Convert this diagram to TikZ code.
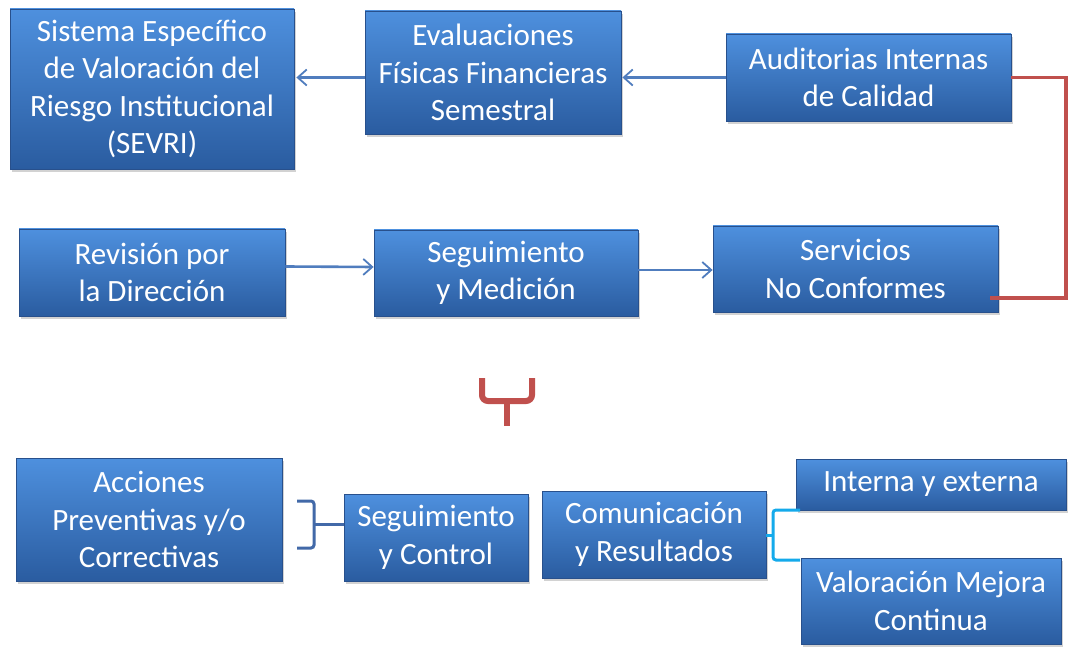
\documentclass[tikz,border=0pt]{standalone}
\usepackage{fontspec}
\setmainfont{Carlito}
\usetikzlibrary{arrows.meta,shadows,calc}
\definecolor{boxtop}{RGB}{78,144,222}
\definecolor{boxbot}{RGB}{42,92,160}
\definecolor{boxline}{RGB}{40,80,140}
\definecolor{arrblue}{RGB}{80,125,190}
\definecolor{redln}{RGB}{192,80,77}
\definecolor{darkbr}{RGB}{66,105,168}
\definecolor{cyanbr}{RGB}{20,170,235}
\tikzset{
  box/.style={draw=boxline, line width=0.8pt, top color=boxtop, bottom color=boxbot,
    text=white, align=center, inner sep=2pt,
    font=\fontsize{31}{37.5}\selectfont,
    drop shadow={opacity=0.35, shadow xshift=2pt, shadow yshift=-3pt}},
  arr/.style={draw=arrblue, line width=2.6pt, -{Straight Barb[length=9pt,width=16pt,line width=1.8pt]}},
  redline/.style={draw=redln, line width=3.5pt},
  redbrace/.style={draw=redln, line width=6pt, rounded corners=6pt},
  bluebrace/.style={draw=darkbr, line width=3pt, rounded corners=3pt},
  cyanbrace/.style={draw=cyanbr, line width=3pt, rounded corners=3pt}
}
\begin{document}
\begin{tikzpicture}[x=1pt,y=-1pt]
\useasboundingbox[fill=white] (0,0) rectangle (1069,647);
% row 1
\node[box, minimum width=284pt, minimum height=160pt] (sevri) at (152,89)
  {Sistema Específico\\de Valoración del\\Riesgo Institucional\\(SEVRI)};
\node[box, minimum width=256pt, minimum height=123pt] (eval) at (493,72.5)
  {Evaluaciones\\Físicas Financieras\\Semestral};
\node[box, minimum width=285pt, minimum height=87pt] (audit) at (868.5,77.5)
  {Auditorias Internas\\de Calidad};
% row 2
\node[box, minimum width=266pt, minimum height=87pt] (rev) at (152,272.5)
  {Revisión por\\la Dirección};
\node[box, minimum width=264pt, minimum height=86pt] (segm) at (506,273)
  {Seguimiento\\y Medición};
\node[box, minimum width=285pt, minimum height=86pt] (serv) at (855.5,269)
  {Servicios\\No Conformes};
% row 3
\node[box, minimum width=266pt, minimum height=123pt] (acc) at (149,519.5)
  {Acciones\\Preventivas y/o\\Correctivas};
\node[box, minimum width=184pt, minimum height=87pt] (segc) at (436,537.5)
  {Seguimiento\\y Control};
\node[box, minimum width=224pt, minimum height=87pt] (com) at (654,534.5)
  {Comunicación\\y Resultados};
\node[box, minimum width=270pt, minimum height=51pt] (int) at (931,484.5)
  {Interna y externa};
\node[box, minimum width=260pt, minimum height=86pt] (val) at (931,601)
  {Valoración Mejora\\Continua};
% arrows
\draw[arr] (audit.west) -- ([xshift=1pt]eval.east |- audit.west);
\draw[arr] (eval.west |- audit.west) -- ([xshift=2pt]sevri.east |- audit.west);
\draw[arr] ([yshift=6pt]rev.east) -- ([yshift=6pt]segm.west);
\draw[arr] (segm.east |- 0,270) -- (serv.west |- 0,270);
% red connector
\coordinate (rc) at (1066,77.5);
\draw[redline] (audit.east) -- (rc) |- ([xshift=-8pt,yshift=-29pt]serv.east);
% red brace
\coordinate (rb1) at (482,378);
\coordinate (rb2) at (532,378);
\coordinate (rbm) at (507,401);
\coordinate (rbs) at (507,426);
\draw[redbrace] (rb1) -- (rb1 |- rbm) -- (rb2 |- rbm) -- (rb2);
\draw[redline, line width=6pt] (rbm) -- (rbs);
% blue brace
\coordinate (bb1) at (297,501);
\coordinate (bb2) at (297,548);
\coordinate (bbx) at (314,524);
\draw[bluebrace] (bb1) -- (bbx |- bb1) -- (bbx |- bb2) -- (bb2);
\draw[draw=darkbr, line width=3pt] (bbx) -- (segc.west |- bbx);
% cyan brace
\coordinate (cb1) at (800,510);
\coordinate (cb2) at (800,560);
\coordinate (cbx) at (773,535);
\draw[cyanbrace] (cb1) -- (cbx |- cb1) -- (cbx |- cb2) -- (cb2);
\draw[draw=cyanbr, line width=3pt] (cbx) -- (com.east |- cbx);
\end{tikzpicture}
\end{document}
